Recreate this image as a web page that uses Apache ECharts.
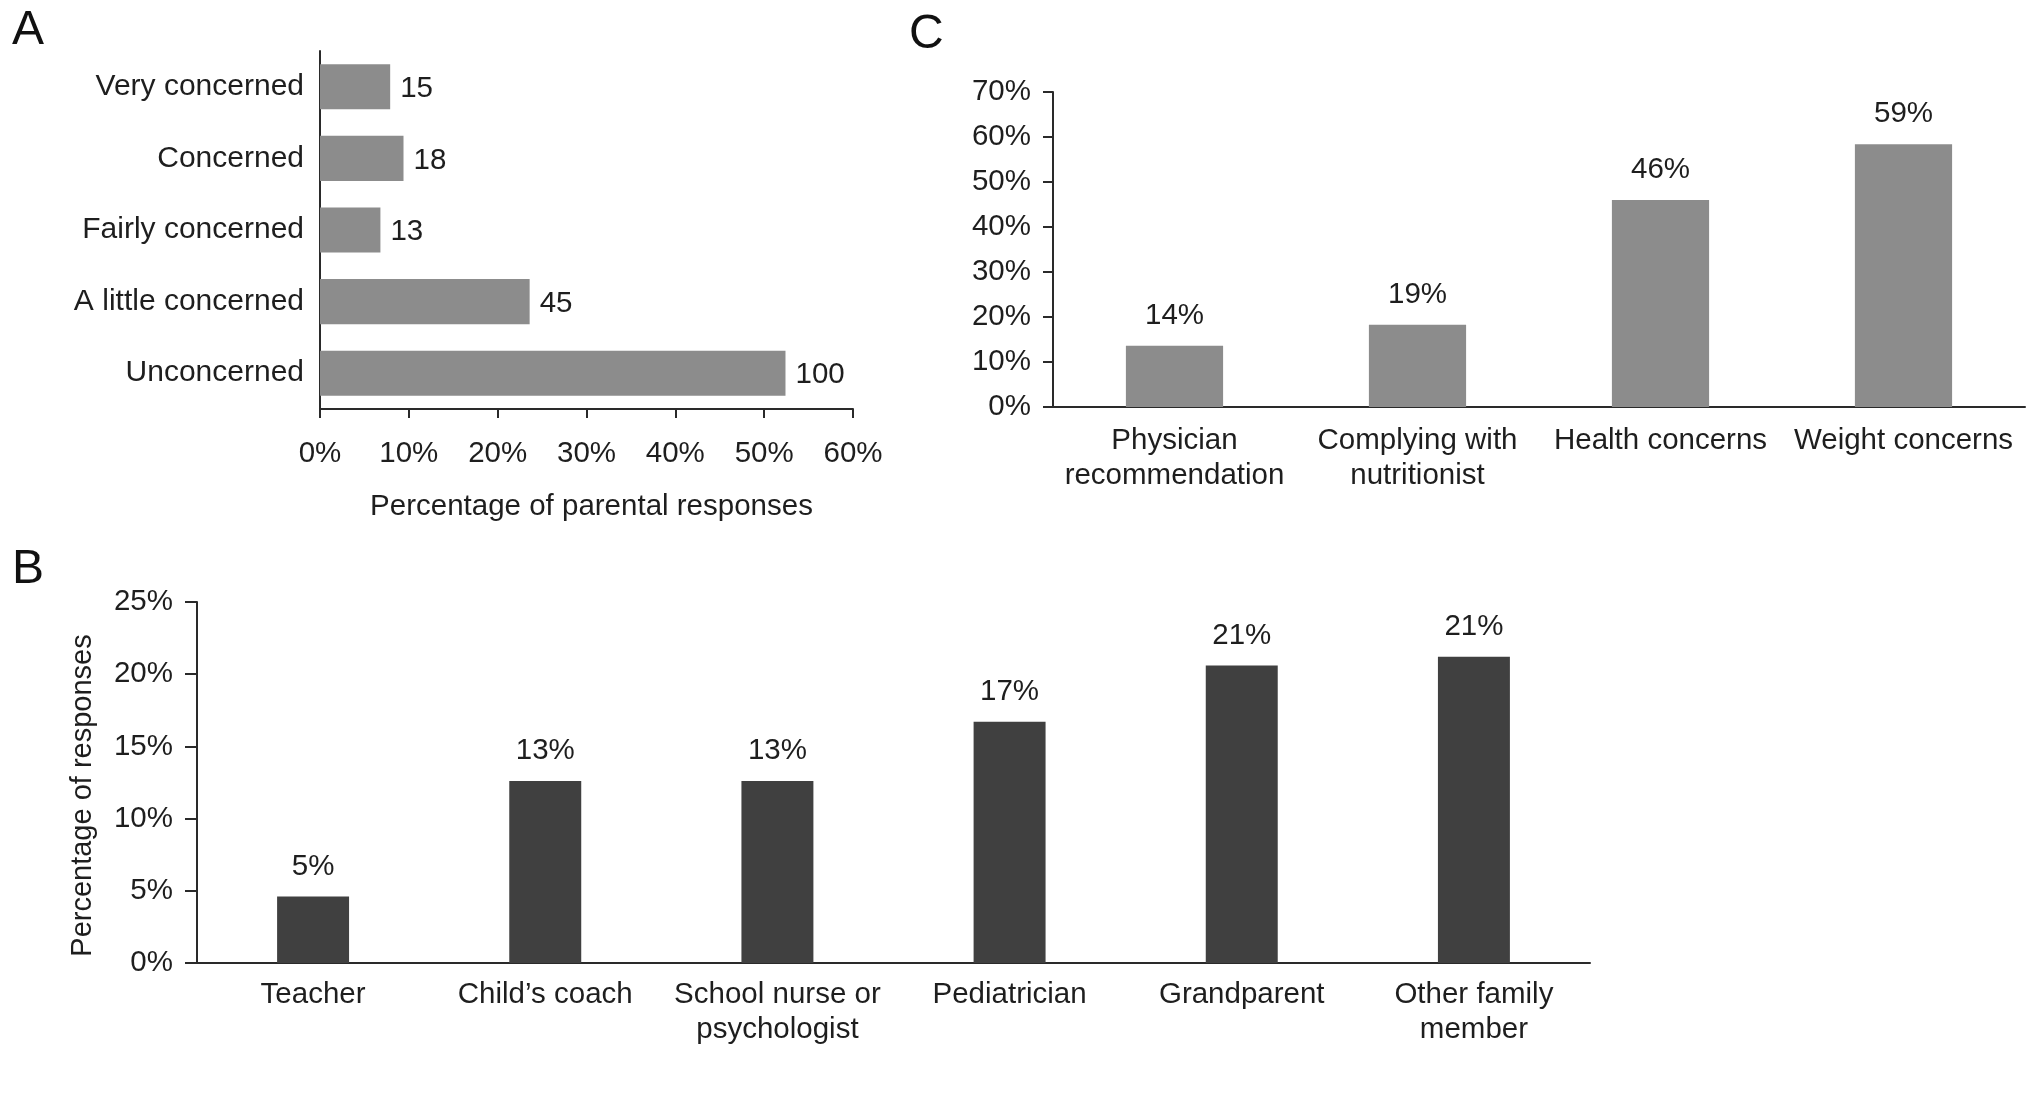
<!DOCTYPE html>
<html><head><meta charset="utf-8">
<script src="https://cdn.jsdelivr.net/npm/echarts@6/dist/echarts.min.js"></script>
<style>html,body{margin:0;padding:0;background:#fff}#c{width:2032px;height:1113px}</style>
</head><body><div id="c"></div>
<script>
// Panel A: level of parental concern
const concernCategories = ['Very concerned', 'Concerned', 'Fairly concerned', 'A little concerned', 'Unconcerned'];
const concernPercent = [7.9, 9.4, 6.8, 23.6, 52.4];
const concernCounts = [15, 18, 13, 45, 100];
// Panel B: who raised concern
const sourceCategories = ['Teacher', 'Child\u2019s coach', 'School nurse or\npsychologist', 'Pediatrician', 'Grandparent', 'Other family\nmember'];
const sourcePercent = [4.6, 12.6, 12.6, 16.7, 20.6, 21.2];
const sourceLabels = ['5%', '13%', '13%', '17%', '21%', '21%'];
// Panel C: reasons
const reasonCategories = ['Physician\nrecommendation', 'Complying with\nnutritionist', 'Health concerns', 'Weight concerns'];
const reasonPercent = [13.6, 18.3, 46.0, 58.4];
const reasonLabels = ['14%', '19%', '46%', '59%'];

const FONT = '"Liberation Sans", Arial, Helvetica, sans-serif';
const TXT = '#1e1e1e';
const AX = '#2a2a2a';
const FS = 29.5;
const lightBar = '#8c8c8c';
const darkBar = '#404040';

const chart = echarts.init(document.getElementById('c'), null, {renderer: 'canvas'});
const axisLine = {show: true, lineStyle: {color: AX, width: 2}};
const txt = (extra) => Object.assign({color: TXT, fontFamily: FONT, fontSize: FS}, extra || {});

chart.setOption({
  backgroundColor: '#fff',
  animation: false,
  textStyle: {fontFamily: FONT, color: TXT},
  graphic: [
    {type: 'text', left: 12, top: 7, style: {text: 'A', font: '48px ' + FONT, fill: '#111'}},
    {type: 'text', left: 909, top: 11, style: {text: 'C', font: '48px ' + FONT, fill: '#111'}},
    {type: 'text', left: 12, top: 546, style: {text: 'B', font: '48px ' + FONT, fill: '#111'}}
  ],
  grid: [
    {left: 320, top: 51, width: 533, height: 358},
    {left: 1053, top: 92, width: 972, height: 315},
    {left: 197, top: 602, width: 1393, height: 361}
  ],
  xAxis: [
    {gridIndex: 0, type: 'value', min: 0, max: 60, interval: 10,
      axisLine: axisLine, axisTick: {show: true, length: 9, lineStyle: {color: AX, width: 2}},
      splitLine: {show: false},
      axisLabel: txt({formatter: '{value}%', margin: 30}),
      name: 'Percentage of parental responses', nameLocation: 'middle', nameGap: 83,
      nameTextStyle: txt({padding: [0, 0, 0, 10]})},
    {gridIndex: 1, type: 'category', data: reasonCategories,
      axisLine: axisLine, axisTick: {show: false},
      axisLabel: txt({margin: 16, lineHeight: 35, interval: 0})},
    {gridIndex: 2, type: 'category', data: sourceCategories,
      axisLine: axisLine, axisTick: {show: false},
      axisLabel: txt({margin: 14, lineHeight: 35, interval: 0})}
  ],
  yAxis: [
    {gridIndex: 0, type: 'category', data: concernCategories, inverse: true,
      axisLine: axisLine, axisTick: {show: false},
      axisLabel: txt({margin: 16, fontSize: 30})},
    {gridIndex: 1, type: 'value', min: 0, max: 70, interval: 10,
      axisLine: axisLine, axisTick: {show: true, length: 10, lineStyle: {color: AX, width: 2}},
      splitLine: {show: false},
      axisLabel: txt({formatter: '{value}%', margin: 22})},
    {gridIndex: 2, type: 'value', min: 0, max: 25, interval: 5,
      axisLine: axisLine, axisTick: {show: true, length: 12, lineStyle: {color: AX, width: 2}},
      splitLine: {show: false},
      axisLabel: txt({formatter: '{value}%', margin: 24}),
      name: 'Percentage of responses', nameLocation: 'middle', nameGap: 100, nameRotate: 90,
      nameTextStyle: txt({fontSize: 29, padding: [0, 26, 0, 0]})}
  ],
  series: [
    {type: 'bar', xAxisIndex: 0, yAxisIndex: 0, data: concernPercent, barCategoryGap: '37%',
      itemStyle: {color: lightBar},
      label: {show: true, position: 'right', distance: 10, offset: [0, 2],
        formatter: (p) => String(concernCounts[p.dataIndex]), color: TXT, fontFamily: FONT, fontSize: FS}},
    {type: 'bar', xAxisIndex: 1, yAxisIndex: 1, data: reasonPercent, barWidth: '40%',
      itemStyle: {color: lightBar},
      label: {show: true, position: 'top', distance: 15,
        formatter: (p) => reasonLabels[p.dataIndex], color: TXT, fontFamily: FONT, fontSize: FS}},
    {type: 'bar', xAxisIndex: 2, yAxisIndex: 2, data: sourcePercent, barWidth: '31%',
      itemStyle: {color: darkBar},
      label: {show: true, position: 'top', distance: 15,
        formatter: (p) => sourceLabels[p.dataIndex], color: TXT, fontFamily: FONT, fontSize: FS}}
  ]
});
</script></body></html>
